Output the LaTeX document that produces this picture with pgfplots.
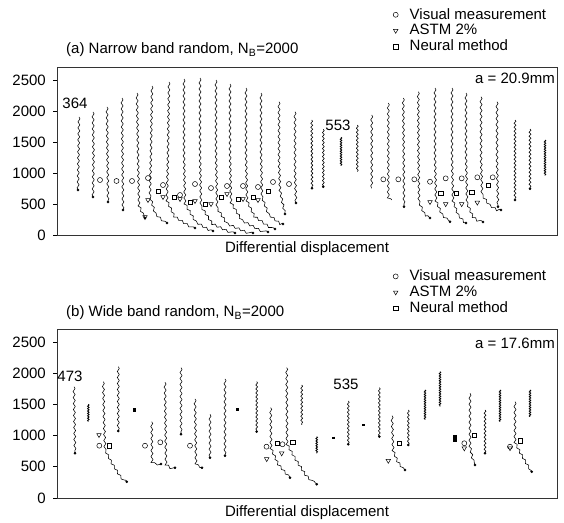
\documentclass[border=0pt]{standalone}
\usepackage{pgfplots}
\pgfplotsset{compat=1.18}
\usepackage{fontspec}
\setmainfont{Liberation Sans}
\usetikzlibrary{decorations.pathmorphing}

\pgfplotsset{
 tr/.style={black, line width=0.55pt, decorate, decoration={snake, amplitude=1.0pt, segment length=6pt}, forget plot},
 md/.style={black, line width=0.6pt, decorate, decoration={snake, amplitude=0.9pt, segment length=4pt}, forget plot},
 dn/.style={black, line width=0.85pt, decorate, decoration={snake, amplitude=0.75pt, segment length=2.4pt}, forget plot},
 bl/.style={black, line width=3.4pt, forget plot},
 ends/.style={only marks, mark=*, mark size=1.1pt, black, forget plot},
 vis/.style={only marks, mark=o, mark size=2.5pt, black, line width=0.5pt},
 astm/.style={only marks, mark=triangle, mark options={rotate=180}, mark size=2.6pt, black, line width=0.5pt},
 neu/.style={only marks, mark=square, mark size=2.2pt, black, line width=0.5pt},
 panel/.style={scale only axis, width=500pt, xmin=57, xmax=557, ymin=0,
   ytick={0,500,...,2500}, xtick=\empty, ytick pos=left, tick align=outside,
   major tick length=4pt, axis line style={black!80, line width=0.7pt},
   tick style={black, line width=0.7pt},
   /pgf/number format/assume math mode=true, /pgf/number format/1000 sep={},
   yticklabel style={xshift=-2pt},
   legend style={draw=none, fill=none, anchor=north west, row sep=0pt, column sep=10pt,
     inner sep=0pt, nodes={inner sep=1.5pt}},
   legend cell align=left,
   legend image code/.code={\draw[##1] plot coordinates {(0pt,0pt)};}},
}

\begin{document}
\fontsize{15}{16}\selectfont
\begin{tikzpicture}[x=1pt,y=1pt]
\path[use as bounding box] (0,0) rectangle (564,522);

% ---------------- panel (a)
\begin{axis}[panel, at={(57pt,287pt)}, anchor=south west, height=168pt, ymax=2722,
  legend style={at={(0.672,1.36)}}]
\addplot[vis] coordinates {(100,891) (116.5,875) (132,875) (148,923) (163,810) (180,648) (195,826) (211,761) (227,794) (243,794) (258,778) (273,859) (289,826) (383.3,902) (398.3,902) (414.3,902) (430,863) (445.7,918) (461.7,918) (477.3,935) (492.7,935)};
\addlegendentry{Visual measurement}
\addplot[astm] coordinates {(145,292) (148,567) (163,616) (180,583) (195,551) (211,502) (227,664) (243,583) (258,567) (430,535) (445.7,502) (461.7,502) (477.3,526)};
\addlegendentry{ASTM 2\%}
\addplot[neu] coordinates {(158,713) (174,616) (190,535) (205,502) (221,616) (238,583) (253,616) (268,713) (440.7,676) (456,676) (471.7,692) (488.3,810)};
\addlegendentry{Neural method}

\addplot[tr] coordinates {(79,1912) (78.5,1300) (78,729)};
\addplot[tr] coordinates {(93,1993) (93.5,1300) (93,616)};
\addplot[tr] coordinates {(107,2074) (107.5,1300) (108,535)};
\addplot[tr] coordinates {(122,2219) (122.5,1300) (123,405)};
\addplot[tr] coordinates {(137,2300) (138,1300) (139,486) (145,275)};
\addplot[tr] coordinates {(152,2414) (151,1377) (150,648) (155,373) (167,194)};
\addplot[tr] coordinates {(169,2479) (168,1377) (167,599) (175,324) (195,113)};
\addplot[tr] coordinates {(184,2527) (184,1377) (185,518) (195,243) (213,65)};
\addplot[tr] coordinates {(200,2543) (200,1377) (201,486) (212,211) (235,32)};
\addplot[tr] coordinates {(216,2511) (216,1377) (217,486) (228,211) (253,32)};
\addplot[tr] coordinates {(230,2446) (230,1377) (231,567) (242,275) (268,49)};
\addplot[tr] coordinates {(246,2381) (246,1377) (247,599) (255,324) (275,97)};
\addplot[tr] coordinates {(261,2300) (261,1377) (262,632) (268,373) (283,178)};
\addplot[tr] coordinates {(279,2159) (279,1215) (280,729) (285,340)};
\addplot[tr] coordinates {(295,1997) (295,1053) (296,518)};
\addplot[md] coordinates {(311.7,1863) (312,757)};
\addplot[md] coordinates {(323.3,1712) (323.3,782)};
\addplot[dn] coordinates {(341,1583) (341,1118)};
\addplot[md] coordinates {(357.3,1782) (357.3,1025)};
\addplot[tr] coordinates {(371.7,1944) (371.7,757)};
\addplot[tr] coordinates {(388.3,2138) (388.3,648) (391.7,567)};
\addplot[tr] coordinates {(403.3,2219) (404,458)};
\addplot[tr] coordinates {(418.3,2321) (418.5,1300) (419,567) (424,380) (430,275)};
\addplot[tr] coordinates {(435,2381) (435,1300) (436,567) (442,340) (450,215)};
\addplot[tr] coordinates {(452,2381) (452,1300) (453,567) (458,340) (466,194)};
\addplot[tr] coordinates {(466,2300) (466,1300) (467,567) (473,340) (483,211)};
\addplot[tr] coordinates {(481,2240) (481,1300) (482,700) (490,520) (501,405)};
\addplot[tr] coordinates {(497,2159) (497,1300) (498,458)};
\addplot[md] coordinates {(515,1863) (515,567)};
\addplot[md] coordinates {(530,1717) (530,750)};
\addplot[dn] coordinates {(545,1539) (545,960)};
\addplot[ends] coordinates {(78,729) (93,616) (108,535) (123,405) (145,275) (167,194) (195,113) (213,65) (235,32) (253,32) (268,49) (275,97) (283,178) (285,340) (296,518) (312,757) (323.3,782) (404,458) (430,275) (450,215) (466,194) (483,211) (501,405) (498,458) (515,567) (530,750)};

\node[anchor=east, inner sep=0pt] at (axis cs:555,2543) {a = 20.9mm};
\node at (axis cs:75,2138) {364};
\node at (axis cs:338,1782) {553};
\end{axis}

% ---------------- panel (b)
\begin{axis}[panel, at={(57pt,24pt)}, anchor=south west, height=169pt, ymax=2708,
  legend style={at={(0.672,1.36)}}]
\addplot[vis] coordinates {(99.3,838) (145,838) (160.3,893) (190,838) (266.5,822) (282.5,861) (464.3,877) (510,822)};
\addlegendentry{Visual measurement}
\addplot[astm] coordinates {(99,1010) (266.7,625) (281.7,717) (388.3,598) (464.3,797) (510,800)};
\addlegendentry{ASTM 2\%}
\addplot[neu] coordinates {(109.3,838) (277.5,877) (292.7,893) (399,877) (474.3,1010) (520,918)};
\addlegendentry{Neural method}

\addplot[tr] coordinates {(74,1784) (74.5,1250) (75,716)};
\addplot[dn] coordinates {(88.3,1502) (88.3,1223)};
\addplot[tr] coordinates {(103.3,1864) (104,1300) (105,822) (112,600) (120,400) (126.7,261)};
\addplot[tr] coordinates {(118.3,2105) (118.3,1074)};
\addplot[bl] coordinates {(134.3,1438) (134.3,1374)};
\addplot[tr] coordinates {(151.7,1223) (152,600) (156,556) (161,545)};
\addplot[tr] coordinates {(165,1855) (166,560) (171,502) (175,486)};
\addplot[tr] coordinates {(181,2089) (181,1021)};
\addplot[tr] coordinates {(195,1587) (196,560) (199,502) (202,486)};
\addplot[tr] coordinates {(210,1342) (210,646)};
\addplot[tr] coordinates {(225,1908) (225,678)};
\addplot[bl] coordinates {(237.3,1438) (237.3,1400)};
\addplot[md] coordinates {(256.7,1864) (256.7,1063)};
\addplot[tr] coordinates {(270.7,1448) (271,797) (278,550) (290,325)};
\addplot[tr] coordinates {(286.7,2089) (287,902) (296,650) (306,400) (316.7,220)};
\addplot[md] coordinates {(301.7,1811) (301.7,1170)};
\addplot[dn] coordinates {(316.7,983) (316.7,717)};
\addplot[bl] coordinates {(333.3,983) (333.3,950)};
\addplot[md] coordinates {(348.3,1555) (348.3,861)};
\addplot[bl] coordinates {(363.3,1181) (363.3,1150)};
\addplot[md] coordinates {(379.3,1768) (379.3,983)};
\addplot[tr] coordinates {(392,1319) (393,800) (398,600) (405,449)};
\addplot[md] coordinates {(408.3,1411) (408.3,850)};
\addplot[dn] coordinates {(425,1731) (425,1250)};
\addplot[dn] coordinates {(440,2025) (440,1464)};
\addplot[bl] coordinates {(455,1010) (455,902)};
\addplot[tr] coordinates {(470,1678) (470,850) (472,689) (475,529)};
\addplot[md] coordinates {(485,1411) (485,717)};
\addplot[dn] coordinates {(500,1731) (500,1223)};
\addplot[tr] coordinates {(515,1544) (515,900) (520,742) (531.7,422)};
\addplot[dn] coordinates {(530,1731) (530,1303)};
\addplot[ends] coordinates {(75,716) (126.7,261) (118.3,1074) (161,545) (175,486) (181,1021) (202,486) (210,646) (225,678) (256.7,1063) (290,325) (316.7,220) (348.3,861) (379.3,983) (405,449) (408.3,850) (475,529) (485,717) (531.7,422)};

\node[anchor=east, inner sep=0pt] at (axis cs:555,2480) {a = 17.6mm};
\node at (axis cs:70,1956) {473};
\node at (axis cs:346,1819) {535};
\end{axis}

\node[anchor=west, inner sep=0pt] at (66,472) {(a) Narrow band random, N\textsubscript{B}=2000};
\node at (307,273) {Differential displacement};
\node[anchor=west, inner sep=0pt] at (66,209) {(b) Wide band random, N\textsubscript{B}=2000};
\node at (307,9) {Differential displacement};
\end{tikzpicture}
\end{document}
